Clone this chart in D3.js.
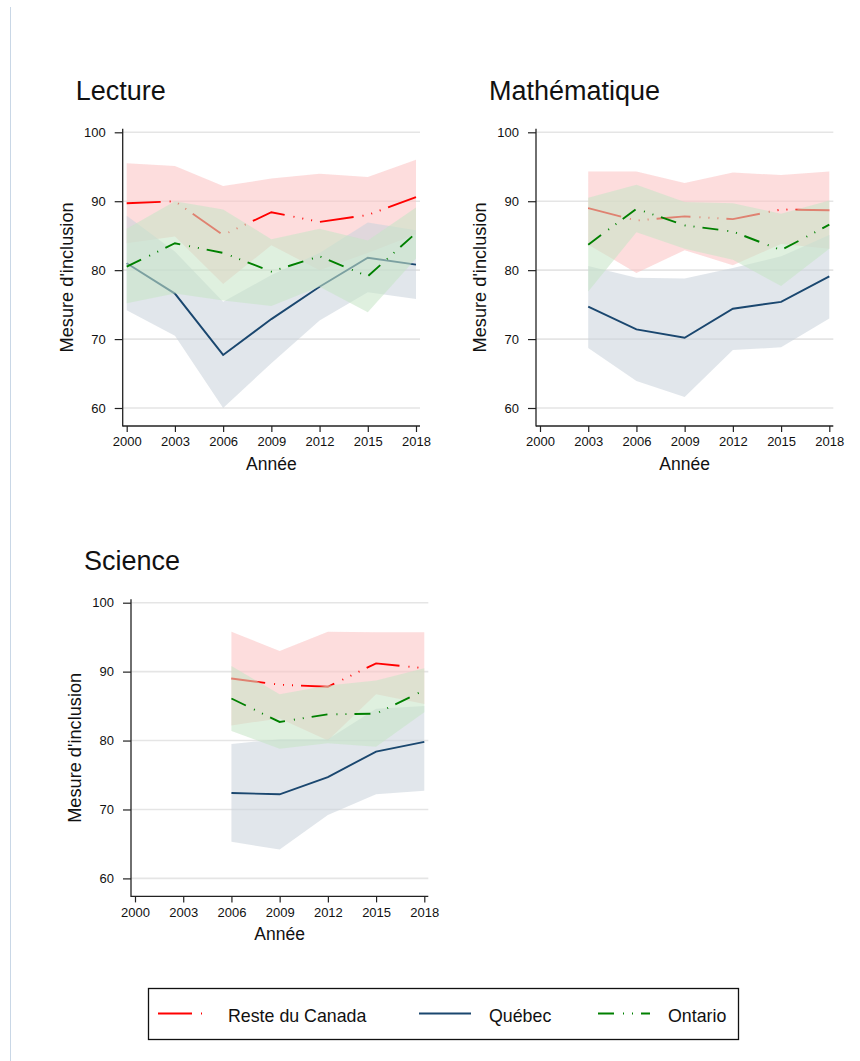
<!DOCTYPE html>
<html>
<head>
<meta charset="utf-8">
<script src="https://cdn.jsdelivr.net/npm/d3@7"></script>
<style>
  body { margin: 0; background: #fff; }
  svg { display: block; font-family: "Liberation Sans", Arial, Helvetica, sans-serif; }
</style>
</head>
<body>
<svg id="chart" width="860" height="1061"></svg>
<script>
const years = [2000, 2003, 2006, 2009, 2012, 2015, 2018];
const yTicks = [60, 70, 80, 90, 100];
const seriesNames = ['Reste du Canada', 'Québec', 'Ontario'];

// Lecture
const lectRdcMean = [89.7, 90.0, 85.1, 88.4, 87.0, 88.0, 90.6];
const lectRdcLow  = [83.9, 84.9, 78.0, 83.6, 80.0, 82.5, 85.2];
const lectRdcHigh = [95.5, 95.1, 92.2, 93.3, 94.0, 93.5, 96.0];
const lectQcMean  = [81.0, 76.6, 67.7, 72.9, 77.6, 81.8, 80.8];
const lectQcLow   = [74.2, 70.5, 60.0, 66.5, 72.7, 76.8, 75.8];
const lectQcHigh  = [87.9, 82.7, 75.4, 79.3, 82.5, 86.9, 85.8];
const lectOnMean  = [80.5, 83.9, 82.5, 79.8, 82.0, 79.1, 85.4];
const lectOnLow   = [75.2, 76.6, 75.6, 74.8, 77.6, 73.9, 81.7];
const lectOnHigh  = [86.0, 90.0, 88.8, 84.5, 86.0, 84.3, 89.1];

// Mathématique
const mathRdcMean = [null, 89.0, 87.2, 87.8, 87.4, 88.8, 88.7];
const mathRdcLow  = [null, 83.7, 79.6, 82.9, 80.7, 83.8, 83.1];
const mathRdcHigh = [null, 94.3, 94.3, 92.65, 94.15, 93.8, 94.3];
const mathQcMean  = [null, 74.7, 71.4, 70.2, 74.4, 75.4, 79.1];
const mathQcLow   = [null, 68.7, 63.9, 61.6, 68.4, 68.8, 73.0];
const mathQcHigh  = [null, 80.6, 78.9, 78.8, 80.3, 82.0, 85.1];
const mathOnMean  = [null, 83.7, 88.9, 86.5, 85.6, 82.9, 86.6];
const mathOnLow   = [null, 76.9, 85.5, 83.1, 81.5, 77.7, 83.1];
const mathOnHigh  = [null, 90.5, 92.4, 89.9, 89.7, 88.2, 90.1];

// Science
const sciRdcMean = [null, null, 89.0, 88.1, 87.8, 91.2, 90.5];
const sciRdcLow  = [null, null, 82.2, 83.2, 80.0, 86.7, 85.3];
const sciRdcHigh = [null, null, 95.8, 93.0, 95.8, 95.7, 95.7];
const sciQcMean  = [null, null, 72.4, 72.2, 74.7, 78.4, 79.8];
const sciQcLow   = [null, null, 65.3, 64.2, 69.2, 72.2, 72.7];
const sciQcHigh  = [null, null, 79.5, 80.2, 80.2, 84.6, 85.0];
const sciOnMean  = [null, null, 86.1, 82.7, 83.8, 83.9, 87.3];
const sciOnLow   = [null, null, 81.4, 78.8, 79.6, 79.1, 84.1];
const sciOnHigh  = [null, null, 90.8, 86.7, 88.0, 88.7, 90.5];

const colors = ['#ff0000', '#1a476f', '#008000'];
// light band colours, drawn half transparent so lines underneath get washed out
const bandColors = ['#fbc3c3', '#cad3dc', '#c6e4c6'];
const bandOpacity = 0.57;
const dashes = ['34 9 1 8 1 8 1 8', null, '16 9 1 8 1 8'];

const panels = [
  { title: 'Lecture', ax: 122.7, y100: 132.3,
    mean: [lectRdcMean, lectQcMean, lectOnMean],
    low: [lectRdcLow, lectQcLow, lectOnLow],
    high: [lectRdcHigh, lectQcHigh, lectOnHigh] },
  { title: 'Mathématique', ax: 536, y100: 132.3,
    mean: [mathRdcMean, mathQcMean, mathOnMean],
    low: [mathRdcLow, mathQcLow, mathOnLow],
    high: [mathRdcHigh, mathQcHigh, mathOnHigh] },
  { title: 'Science', ax: 131, y100: 602.7,
    mean: [sciRdcMean, sciQcMean, sciOnMean],
    low: [sciRdcLow, sciQcLow, sciOnLow],
    high: [sciRdcHigh, sciQcHigh, sciOnHigh] }
];

const svg = d3.select('#chart');

// thin border line on the left
svg.append('line')
  .attr('x1', 10.5).attr('x2', 10.5).attr('y1', 7).attr('y2', 1061)
  .attr('stroke', '#c9d7e6').attr('stroke-width', 1);

panels.forEach(p => {
  const x = d3.scaleLinear().domain([2000, 2018]).range([p.ax + 4, p.ax + 293.3]);
  const y = d3.scaleLinear().domain([60, 100]).range([p.y100 + 275.7, p.y100]);
  const g = svg.append('g');
  const right = x(2018) + 4;
  const bottom = y(60) + 18;
  const idx = d3.range(years.length);

  // gridlines
  g.selectAll('.grid').data(yTicks).join('line')
    .attr('x1', p.ax).attr('x2', right)
    .attr('y1', d => y(d)).attr('y2', d => y(d))
    .attr('stroke', '#e5e5e5').attr('stroke-width', 1.6);

  p.mean.forEach((m, s) => {
    const lo = p.low[s], hi = p.high[s];
    g.append('path')
      .attr('d', d3.area()
        .defined(i => lo[i] != null)
        .x(i => x(years[i]))
        .y0(i => y(lo[i]))
        .y1(i => y(hi[i]))(idx))
      .attr('fill', bandColors[s]).attr('fill-opacity', bandOpacity);
    g.append('path')
      .attr('d', d3.line()
        .defined(i => m[i] != null)
        .x(i => x(years[i]))
        .y(i => y(m[i]))(idx))
      .attr('fill', 'none')
      .attr('stroke', colors[s])
      .attr('stroke-width', 1.9)
      .attr('stroke-dasharray', dashes[s]);
  });

  // axes
  const yAxis = g.append('g')
    .attr('transform', `translate(${p.ax},0)`)
    .call(d3.axisLeft(y).tickValues(yTicks).tickSize(8).tickPadding(9).tickSizeOuter(0));
  const xAxis = g.append('g')
    .attr('transform', `translate(0,${bottom})`)
    .call(d3.axisBottom(x).tickValues(years).tickFormat(d3.format('d')).tickSize(6).tickPadding(5).tickSizeOuter(0));
  [yAxis, xAxis].forEach(a => {
    a.select('.domain').remove();
    a.selectAll('.tick line').attr('stroke', '#222').attr('stroke-width', 1.2);
    a.selectAll('.tick text').attr('fill', '#111').style('font-size', '13px');
  });
  g.append('line')
    .attr('x1', p.ax).attr('x2', p.ax).attr('y1', y(100) - 3.5).attr('y2', bottom + 0.6)
    .attr('stroke', '#222').attr('stroke-width', 1.3);
  g.append('line')
    .attr('x1', p.ax).attr('x2', right).attr('y1', bottom).attr('y2', bottom)
    .attr('stroke', '#222').attr('stroke-width', 1.3);

  // titles
  g.append('text')
    .attr('x', p.ax - 47).attr('y', p.y100 - 32.5)
    .style('font-size', '27px').attr('fill', '#111')
    .text(p.title);
  g.append('text')
    .attr('x', (x(2000) + x(2018)) / 2).attr('y', bottom + 44)
    .attr('text-anchor', 'middle')
    .style('font-size', '17.5px').attr('fill', '#111')
    .text('Année');
  g.append('text')
    .attr('transform', `translate(${p.ax - 50},${(y(100) - 3.5 + bottom) / 2}) rotate(-90)`)
    .attr('text-anchor', 'middle')
    .style('font-size', '18.2px').attr('fill', '#111')
    .text("Mesure d'inclusion");
});

// legend
const legend = svg.append('g');
legend.append('rect')
  .attr('x', 148.5).attr('y', 988.5).attr('width', 590).attr('height', 51)
  .attr('fill', 'none').attr('stroke', '#111').attr('stroke-width', 1.3);
const legendX = [158, 419, 598];
seriesNames.forEach((name, s) => {
  legend.append('line')
    .attr('x1', legendX[s]).attr('x2', legendX[s] + 52)
    .attr('y1', 1013.5).attr('y2', 1013.5)
    .attr('stroke', colors[s]).attr('stroke-width', 2)
    .attr('stroke-dasharray', dashes[s]);
  legend.append('text')
    .attr('x', legendX[s] + 70).attr('y', 1021.5)
    .style('font-size', '17.8px').attr('fill', '#111')
    .text(name);
});
</script>
</body>
</html>
